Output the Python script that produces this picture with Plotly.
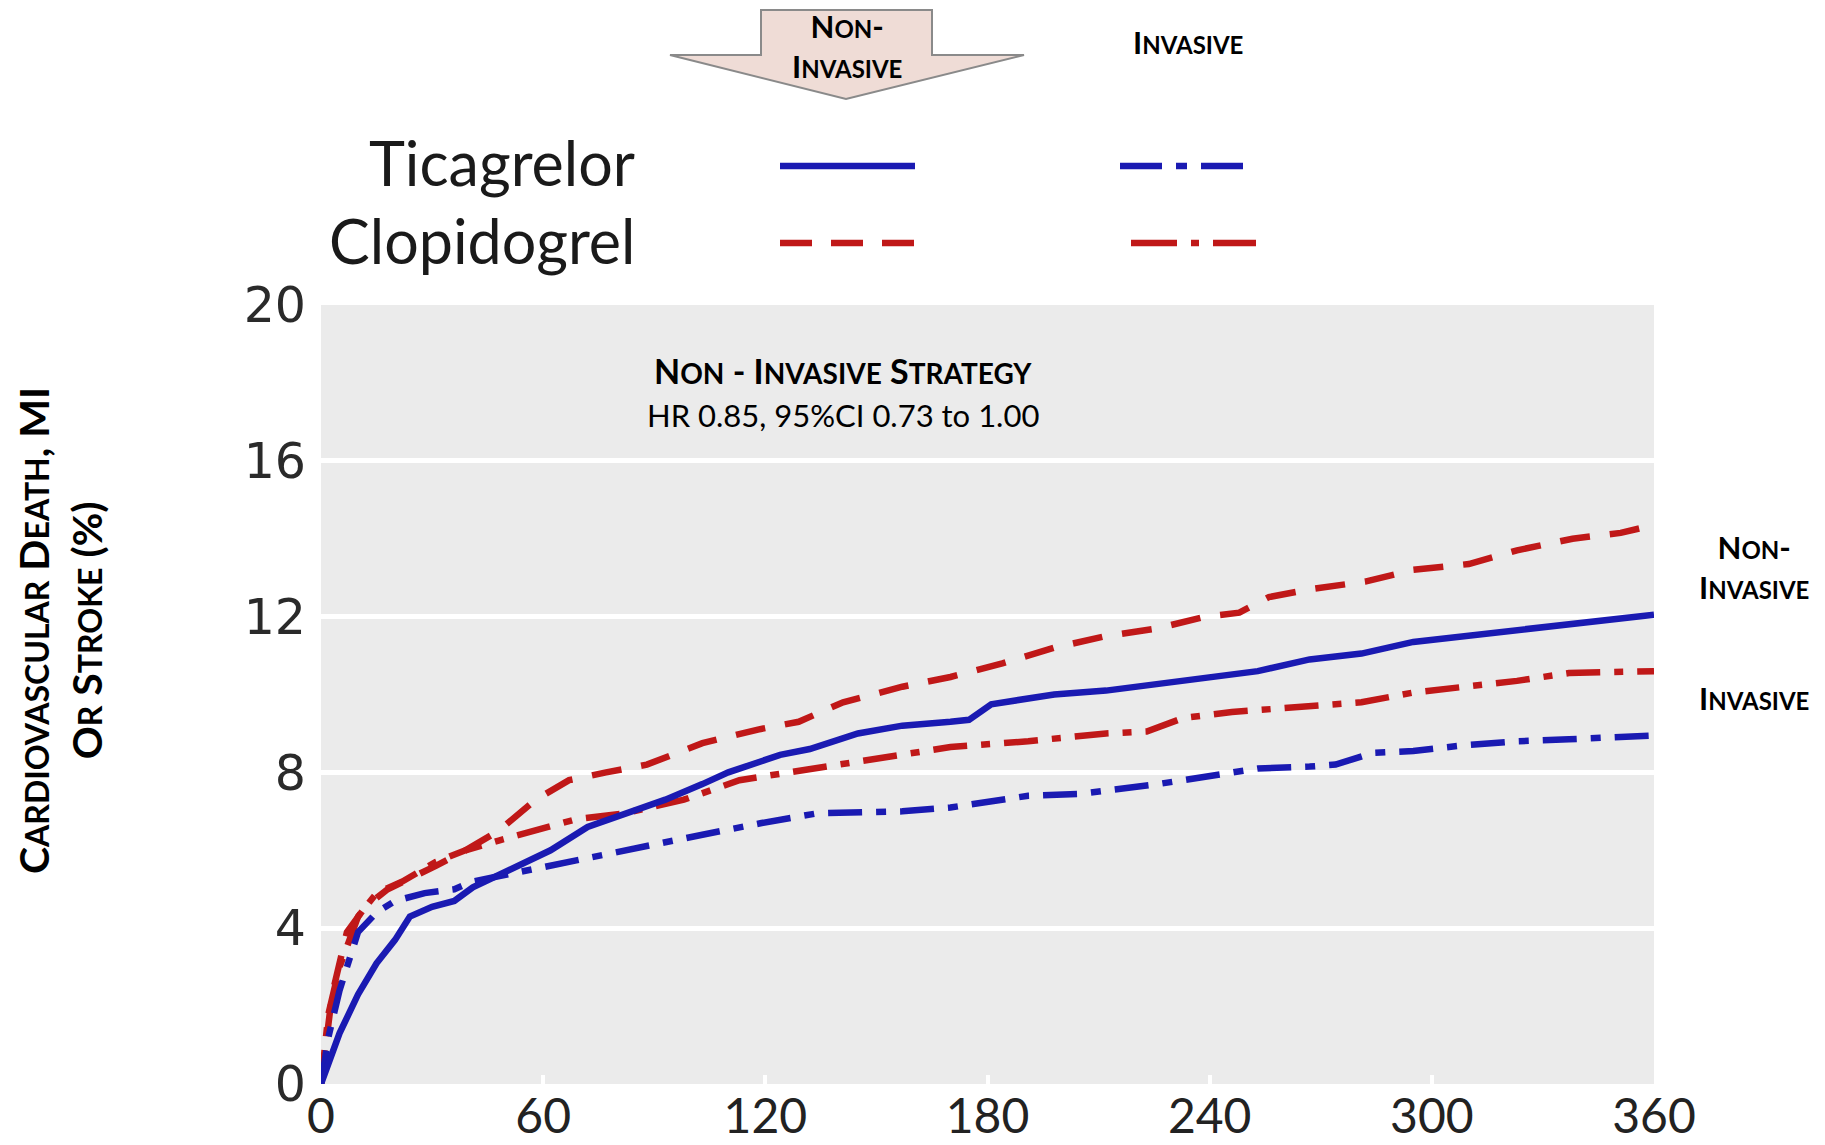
import re
import plotly.graph_objects as go

# ---------------- data ----------------
days_noninv_tica = [0, 5, 10, 15, 20, 24, 30, 36, 41, 51, 62, 72, 82, 93, 103, 110, 124, 132, 145,
                    157, 170, 175, 181, 198, 212, 229, 239, 253, 267, 281, 295, 309, 323, 337, 351, 360]
vals_noninv_tica = [0, 1.3, 2.3, 3.1, 3.7, 4.3, 4.55, 4.7, 5.05, 5.5, 6.0, 6.6, 6.95, 7.3, 7.7, 8.0, 8.45, 8.6, 9.0,
                    9.2, 9.3, 9.35, 9.75, 10.0, 10.1, 10.3, 10.45, 10.6, 10.9, 11.05, 11.35, 11.5, 11.65, 11.8, 11.95, 12.05]

days_noninv_clop = [0, 3, 7, 12, 18, 25, 31, 39, 48, 58, 67, 77, 88, 103, 118, 129, 141, 157, 170,
                    184, 198, 212, 226, 239, 248, 256, 267, 282, 295, 310, 323, 338, 351, 360]
vals_noninv_clop = [0, 2.3, 3.9, 4.55, 5.0, 5.3, 5.6, 6.0, 6.5, 7.3, 7.8, 8.0, 8.2, 8.75, 9.1, 9.3, 9.8, 10.2, 10.45,
                    10.8, 11.2, 11.5, 11.7, 12.0, 12.1, 12.5, 12.7, 12.9, 13.2, 13.35, 13.7, 14.0, 14.15, 14.35]

days_inv_clop = [0, 2, 5, 10, 15, 22, 31, 39, 48, 58, 69, 82, 98, 113, 129, 145, 157, 170, 191, 212,
                 223, 233, 246, 267, 281, 295, 309, 323, 337, 360]
vals_inv_clop = [0, 1.8, 3.0, 4.3, 4.9, 5.2, 5.7, 6.0, 6.25, 6.5, 6.8, 6.95, 7.3, 7.8, 8.05, 8.3, 8.45, 8.65, 8.8, 9.0,
                 9.05, 9.4, 9.55, 9.7, 9.8, 10.05, 10.2, 10.35, 10.55, 10.6]

days_inv_tica = [0, 2, 5, 10, 15, 20, 28, 36, 41, 46, 57, 72, 88, 103, 119, 134, 157, 170, 191, 205,
                 226, 239, 253, 267, 274, 284, 295, 309, 323, 337, 360]
vals_inv_tica = [0, 1.2, 2.4, 3.9, 4.4, 4.7, 4.9, 5.0, 5.2, 5.3, 5.5, 5.8, 6.1, 6.4, 6.7, 6.95, 7.0, 7.1, 7.4, 7.45,
                 7.7, 7.9, 8.1, 8.15, 8.2, 8.5, 8.55, 8.7, 8.8, 8.85, 8.95]

x_ticks = [0, 60, 120, 180, 240, 300, 360]
y_ticks = [0, 4, 8, 12, 16, 20]

drug_labels = ["Ticagrelor", "Clopidogrel"]

# ---------------- styling ----------------
BLUE = "#1a1ab2"
RED = "#c01818"
LW = 6.5
W, H = 1825, 1145
L, R, T, B = 321, 171, 305, 61
PW, PH = W - L - R, H - T - B


def px(x):
    return (x - L) / PW


def py(y):
    return (H - B - y) / PH


def sc(s, small):
    """small caps: lowercase runs become smaller uppercase"""
    return re.sub(r"[a-z]+",
                  lambda m: f"<span style='font-size:{small}px'>{m.group(0).upper()}</span>", s)


fig = go.Figure()

series = [
    (days_noninv_clop, vals_noninv_clop, RED, "30px,20px"),
    (days_inv_clop, vals_inv_clop, RED, "34px,14px,9px,14px"),
    (days_inv_tica, vals_inv_tica, BLUE, "34px,14px,10px,14px"),
    (days_noninv_tica, vals_noninv_tica, BLUE, "solid"),
]
for d, v, c, dash in series:
    fig.add_trace(go.Scatter(x=d, y=v, mode="lines", showlegend=False, hoverinfo="skip",
                             line=dict(color=c, width=LW, dash=dash, shape="linear")))

fig.update_layout(
    width=W, height=H, autosize=False,
    margin=dict(l=L, r=R, t=T, b=B, pad=0, autoexpand=False),
    paper_bgcolor="white", plot_bgcolor="#ebebeb",
    xaxis=dict(range=[0, 360], tickvals=x_ticks, showgrid=False, zeroline=False, showline=False,
               automargin=False,
               ticks="inside", ticklen=9, tickwidth=4, tickcolor="white", ticklabelstandoff=0,
               tickfont=dict(family="Lato", size=48, color="#222")),
    yaxis=dict(range=[0, 20], tickvals=y_ticks, showgrid=True, gridcolor="white", gridwidth=5,
               automargin=False,
               zeroline=False, showline=False, ticks="", ticklabelstandoff=14,
               tickfont=dict(family="DejaVu Sans", size=49, color="#2a2a2a")),
)

# ---------------- annotations ----------------
ann = []
BF = "Lato"
# y-axis title
ann.append(dict(text=sc("Cardiovascular Death, MI", 32) + "<br>" + sc("Or Stroke (%)", 32),
                xref="paper", yref="paper", x=px(60), y=py(631), textangle=-90,
                xanchor="center", yanchor="middle", showarrow=False, align="center",
                font=dict(family=BF, size=41, color="black", weight="bold")))
# strategy text
ann.append(dict(text=sc("Non - Invasive Strategy", 28), xref="paper", yref="paper",
                x=px(843), y=py(370), xanchor="center", yanchor="middle", showarrow=False,
                font=dict(family=BF, size=34, color="black", weight="bold")))
ann.append(dict(text="HR 0.85, 95%CI 0.73 to 1.00", xref="paper", yref="paper",
                x=px(843), y=py(415), xanchor="center", yanchor="middle", showarrow=False,
                font=dict(family=BF, size=31, color="black")))
# right-side labels
ann.append(dict(text=sc("Non-", 24) + "<br>" + sc("Invasive", 24), xref="paper", yref="paper",
                x=px(1754), y=py(567), xanchor="center", yanchor="middle", showarrow=False,
                align="center", font=dict(family=BF, size=31, color="black", weight="bold")))
ann.append(dict(text=sc("Invasive", 24), xref="paper", yref="paper",
                x=px(1754), y=py(698), xanchor="center", yanchor="middle", showarrow=False,
                font=dict(family=BF, size=31, color="black", weight="bold")))
# top column headers
ann.append(dict(text=sc("Non-", 24) + "<br>" + sc("Invasive", 24), xref="paper", yref="paper",
                x=px(847), y=py(46), xanchor="center", yanchor="middle", showarrow=False,
                align="center", font=dict(family=BF, size=31, color="black", weight="bold")))
ann.append(dict(text=sc("Invasive", 24), xref="paper", yref="paper",
                x=px(1188), y=py(42), xanchor="center", yanchor="middle", showarrow=False,
                font=dict(family=BF, size=31, color="black", weight="bold")))
# legend labels
for lbl, yy in zip(drug_labels, [163, 240]):
    ann.append(dict(text=lbl, xref="paper", yref="paper", x=px(637), y=py(yy),
                    xanchor="right", yanchor="middle", showarrow=False,
                    font=dict(family=BF, size=61, color="#1a1a1a")))

# ---------------- shapes ----------------
shapes = []
arrow = [(761, 10), (932, 10), (932, 55), (1024, 55), (846, 99), (670, 55), (761, 55)]
path = "M " + " L ".join(f"{px(a)},{py(b)}" for a, b in arrow) + " Z"
shapes.append(dict(type="path", path=path, xref="paper", yref="paper", layer="below",
                   fillcolor="#efdcd6", line=dict(color="#8a8a8a", width=2)))
legend_samples = [
    (780, 915, 166, BLUE, "solid"),
    (780, 915, 243, RED, "32px,19px"),
    (1120, 1254, 166, BLUE, "42px,14px,11px,14px"),
    (1131, 1256, 243, RED, "46px,14px,8px,14px"),
]
for x0, x1, yy, c, dash in legend_samples:
    shapes.append(dict(type="line", xref="paper", yref="paper", x0=px(x0), x1=px(x1),
                       y0=py(yy), y1=py(yy), line=dict(color=c, width=LW, dash=dash)))

fig.update_layout(annotations=ann, shapes=shapes)
fig.write_html("out.html")
